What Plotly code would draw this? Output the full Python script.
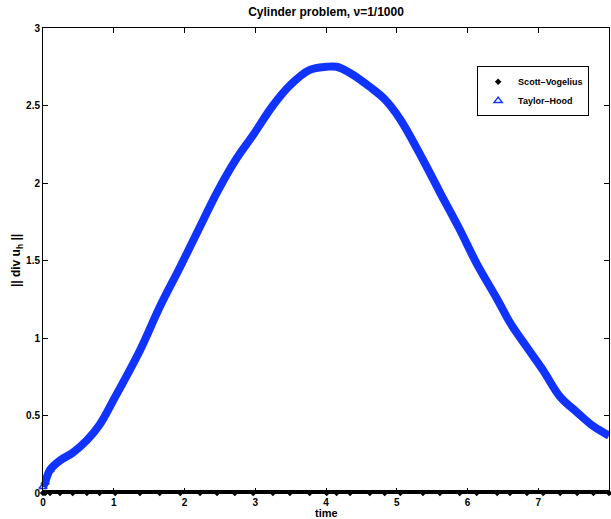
import plotly.graph_objects as go

# Data
time = [0.0, 0.03, 0.1, 0.24, 0.42, 0.62, 0.8, 1.02, 1.37, 1.65, 1.94, 2.22, 2.46, 2.71,
        2.97, 3.25, 3.49, 3.77, 4.01, 4.15, 4.34, 4.62, 4.83, 5.05, 5.37, 5.61, 5.89,
        6.13, 6.42, 6.6, 6.84, 7.07, 7.31, 7.55, 7.78, 8.0]
taylor_hood = [0.04, 0.07, 0.15, 0.21, 0.26, 0.34, 0.44, 0.62, 0.92, 1.2, 1.46, 1.72,
               1.94, 2.14, 2.31, 2.50, 2.63, 2.73, 2.75, 2.75, 2.71, 2.62, 2.54, 2.41,
               2.15, 1.94, 1.70, 1.48, 1.25, 1.10, 0.94, 0.79, 0.62, 0.52, 0.43, 0.37]
scott_vogelius = [0.0] * len(time)

x_ticks = [0, 1, 2, 3, 4, 5, 6, 7, 8]
y_ticks = [0, 0.5, 1, 1.5, 2, 2.5, 3]
y_tick_labels = ["0", "0.5", "1", "1.5", "2", "2.5", "3"]

BLUE = "#1133ff"
FONT = "Liberation Sans"

fig = go.Figure()
fig.add_trace(go.Scatter(x=time, y=taylor_hood, mode="lines",
                         line=dict(color=BLUE, width=8, shape="spline", smoothing=1.0),
                         showlegend=False, cliponaxis=False, hoverinfo="skip"))
fig.add_trace(go.Scatter(x=time, y=scott_vogelius, mode="lines", line=dict(color="black", width=6),
                         showlegend=False, cliponaxis=False, hoverinfo="skip"))
fig.add_trace(go.Scatter(x=time, y=scott_vogelius, mode="markers", name="<b>Scott\u2013Vogelius</b>",
                         marker=dict(symbol="diamond", size=5, color="black"), cliponaxis=False))
fig.add_trace(go.Scatter(x=time[:3], y=taylor_hood[:3], mode="markers", name="<b>Taylor\u2013Hood</b>",
                         marker=dict(symbol="triangle-up-open", size=7, color=BLUE,
                                     line=dict(width=1.5, color=BLUE)),
                         cliponaxis=False))

axis_common = dict(showline=True, linecolor="black", linewidth=1, mirror="allticks", ticks="inside",
                   ticklen=5, tickcolor="black", showgrid=False, zeroline=False, automargin=False,
                   tickfont=dict(family=FONT, size=10, color="black"))

fig.update_layout(
    width=611, height=519,
    margin=dict(l=43, r=2, t=28, b=26),
    paper_bgcolor="white", plot_bgcolor="white",
    title=dict(text="<b>Cylinder problem, \u03bd=1/1000</b>", x=(43 + 609) / 2 / 611, xanchor="center",
               y=1 - 12 / 519, yanchor="middle",
               font=dict(family=FONT, size=12, color="black")),
    xaxis=dict(range=[0, 8], tickvals=x_ticks, ticktext=[f"<b>{v}</b>" for v in x_ticks],
               **axis_common),
    yaxis=dict(range=[0, 3], tickvals=y_ticks, ticktext=[f"<b>{v}</b>" for v in y_tick_labels],
               title=dict(text="<b>|| div u<sub>h</sub> ||</b>", font=dict(family=FONT, size=12, color="black"),
                          standoff=2),
               **axis_common),
    legend=dict(x=0.767, y=0.918, xanchor="left", yanchor="top", bgcolor="white", bordercolor="black",
                borderwidth=1, font=dict(family=FONT, size=9, color="black"), tracegroupgap=0,
                itemwidth=30),
    showlegend=True,
    annotations=[dict(text="<b>time</b>", xref="paper", yref="paper", x=0.5, y=-(519 - 493) / 465,
                      xanchor="center", yanchor="bottom", showarrow=False, height=11, borderpad=0,
                      font=dict(family=FONT, size=11, color="black"))],
)

fig.write_html("out.html", config={"displayModeBar": False},
               post_script="document.body.style.margin='0';document.body.style.overflow='hidden';")
